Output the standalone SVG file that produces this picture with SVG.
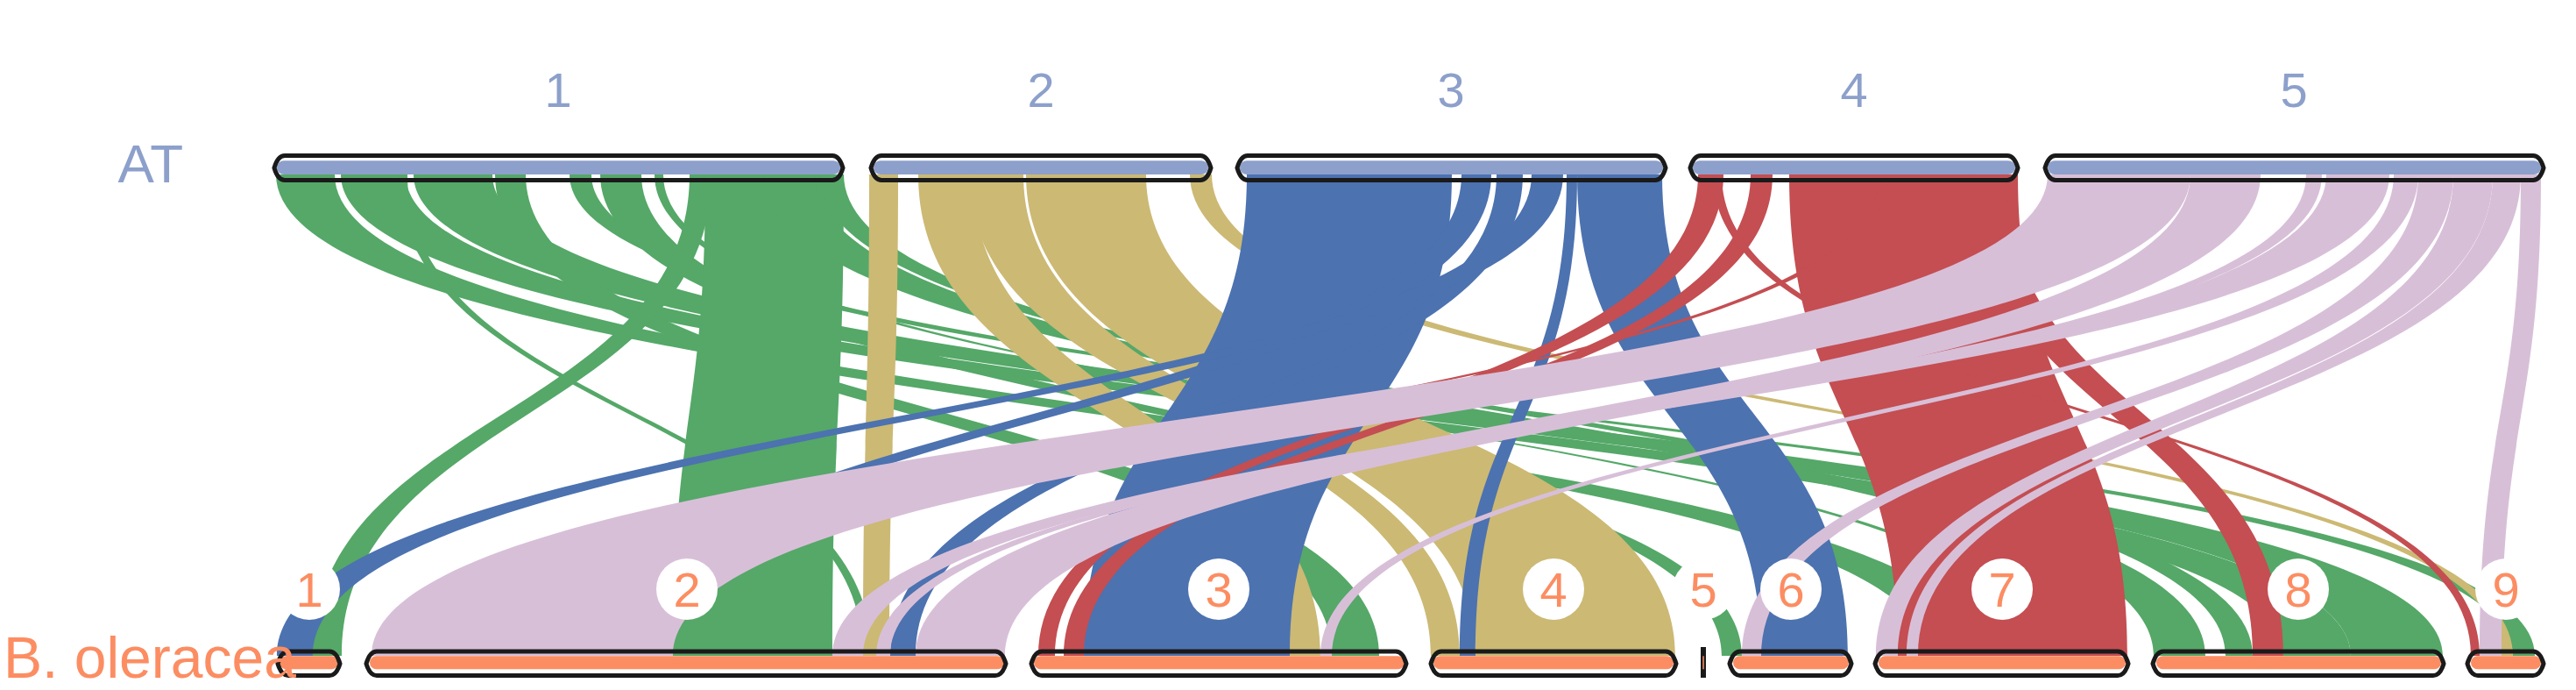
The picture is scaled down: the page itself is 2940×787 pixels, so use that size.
<svg xmlns="http://www.w3.org/2000/svg" width="2940" height="787" viewBox="0 0 2940 787">
<style>
.g{fill:#55A868}.y{fill:#CCB974}.b{fill:#4C72B0}.r{fill:#C44E52}.l{fill:#D8BFD8}
.ol{fill:none;stroke:#1a1a1a;stroke-width:5}
.tb{fill:#8DA0CB}.bb{fill:#FC8D62}
.tl{font-family:"Liberation Sans",Arial,sans-serif;font-size:56px;fill:#8DA0CB;text-anchor:middle}
.bl{font-family:"Liberation Sans",Arial,sans-serif;font-size:56px;fill:#FC8D62;text-anchor:middle}
.circ{fill:#fff}
</style>
<rect width="2940" height="787" fill="#fff"/>
<g id="connectors">
<path class="g" d="M315 199C315 473.5 2200 473.5 2200 748L2262 748C2262 473.5 382 473.5 382 199Z"/>
<path class="g" d="M389 199C389 473.5 2606 473.5 2606 748L2683 748C2683 473.5 463 473.5 463 199Z"/>
<path class="g" d="M472 199C472 473.5 2683 473.5 2683 748L2788 748C2788 473.5 562 473.5 562 199Z"/>
<path class="g" d="M565 199C565 473.5 1520 473.5 1520 748L1574 748C1574 473.5 600 473.5 600 199Z"/>
<path class="g" d="M650 199C650 473.5 2868 473.5 2868 748L2893 748C2893 473.5 675 473.5 675 199Z"/>
<path class="g" d="M685 199C685 473.5 1965 473.5 1965 748L1988 748C1988 473.5 732 473.5 732 199Z"/>
<path class="g" d="M747 199C747 473.5 2330 473.5 2330 748L2340 748C2340 473.5 757 473.5 757 199Z"/>
<path class="g" d="M455 199C455 473.5 985 473.5 985 748L995 748C995 473.5 465 473.5 465 199Z"/>
<path class="g" d="M787 199C787 473.5 357 473.5 357 748L390 748C390 473.5 812 473.5 812 199Z"/>
<path class="g" d="M805 199C805 473.5 768 473.5 768 748L950 748C950 473.5 963 473.5 963 199Z"/>
<path class="g" d="M871 199C871 473.5 2458 473.5 2458 748L2517 748C2517 473.5 930 473.5 930 199Z"/>
<path class="g" d="M935 199C935 473.5 2540 473.5 2540 748L2571 748C2571 473.5 963 473.5 963 199Z"/>
<path class="y" d="M992 199C992 473.5 985 473.5 985 748L1015 748C1015 473.5 1025 473.5 1025 199Z"/>
<path class="y" d="M1048 199C1048 473.5 1472 473.5 1472 748L1507 748C1507 473.5 1110 473.5 1110 199Z"/>
<path class="y" d="M1106 199C1106 473.5 1633 473.5 1633 748L1666 748C1666 473.5 1168 473.5 1168 199Z"/>
<path class="y" d="M1171 199C1171 473.5 1684 473.5 1684 748L1912 748C1912 473.5 1308 473.5 1308 199Z"/>
<path class="y" d="M1358 199C1358 473.5 2855 473.5 2855 748L2868 748C2868 473.5 1383 473.5 1383 199Z"/>
<path class="b" d="M1423 199C1423 473.5 1237 473.5 1237 748L1472 748C1472 473.5 1657 473.5 1657 199Z"/>
<path class="b" d="M1668 199C1668 473.5 680 473.5 680 748L712 748C712 473.5 1702 473.5 1702 199Z"/>
<path class="b" d="M1708 199C1708 473.5 1016 473.5 1016 748L1045 748C1045 473.5 1738 473.5 1738 199Z"/>
<path class="b" d="M1748 199C1748 473.5 316 473.5 316 748L357 748C357 473.5 1784 473.5 1784 199Z"/>
<path class="b" d="M1788 199C1788 473.5 1666 473.5 1666 748L1684 748C1684 473.5 1800 473.5 1800 199Z"/>
<path class="b" d="M1800 199C1800 473.5 2010 473.5 2010 748L2109 748C2109 473.5 1897 473.5 1897 199Z"/>
<path class="r" d="M1938 199C1938 473.5 1185 473.5 1185 748L1204 748C1204 473.5 1967 473.5 1967 199Z"/>
<path class="r" d="M1998 199C1998 473.5 1214 473.5 1214 748L1237 748C1237 473.5 2023 473.5 2023 199Z"/>
<path class="r" d="M2042 199C2042 473.5 2166 473.5 2166 748L2428 748C2428 473.5 2303 473.5 2303 199Z"/>
<path class="r" d="M2250 199C2250 473.5 2571 473.5 2571 748L2606 748C2606 473.5 2290 473.5 2290 199Z"/>
<path class="r" d="M1955 199C1955 473.5 2820 473.5 2820 748L2830 748C2830 473.5 1965 473.5 1965 199Z"/>
<path class="r" d="M2145 199C2145 473.5 745 473.5 745 748L755 748C755 473.5 2155 473.5 2155 199Z"/>
<path class="l" d="M2337 199C2337 473.5 424 473.5 424 748L768 748C768 473.5 2500 473.5 2500 199Z"/>
<path class="l" d="M2500 199C2500 473.5 1045 473.5 1045 748L1147 748C1147 473.5 2580 473.5 2580 199Z"/>
<path class="l" d="M2632 199C2632 473.5 1000 473.5 1000 748L1016 748C1016 473.5 2650 473.5 2650 199Z"/>
<path class="l" d="M2655 199C2655 473.5 950 473.5 950 748L985 748C985 473.5 2727 473.5 2727 199Z"/>
<path class="l" d="M2732 199C2732 473.5 1507 473.5 1507 748L1520 748C1520 473.5 2760 473.5 2760 199Z"/>
<path class="l" d="M2760 199C2760 473.5 1988 473.5 1988 748L2010 748C2010 473.5 2800 473.5 2800 199Z"/>
<path class="l" d="M2800 199C2800 473.5 2141 473.5 2141 748L2166 748C2166 473.5 2845 473.5 2845 199Z"/>
<path class="l" d="M2845 199C2845 473.5 2176 473.5 2176 748L2189 748C2189 473.5 2877 473.5 2877 199Z"/>
<path class="l" d="M2877 199C2877 473.5 2830 473.5 2830 748L2855 748C2855 473.5 2900 473.5 2900 199Z"/>
</g>
<g id="top-chromosomes">
<g id="AT1"><rect class="tb" x="316" y="183.3" width="643" height="15.7" rx="8"/><path class="ol" d="M325 177.5H950Q958 177.5 962 191.5Q958 205.5 950 205.5H325Q317 205.5 313 191.5Q317 177.5 325 177.5Z"/><text class="tl" x="637" y="122">1</text></g>
<g id="AT2"><rect class="tb" x="997" y="183.3" width="382" height="15.7" rx="8"/><path class="ol" d="M1006 177.5H1370Q1378 177.5 1382 191.5Q1378 205.5 1370 205.5H1006Q998 205.5 994 191.5Q998 177.5 1006 177.5Z"/><text class="tl" x="1188" y="122">2</text></g>
<g id="AT3"><rect class="tb" x="1415" y="183.3" width="483" height="15.7" rx="8"/><path class="ol" d="M1424 177.5H1889Q1897 177.5 1901 191.5Q1897 205.5 1889 205.5H1424Q1416 205.5 1412 191.5Q1416 177.5 1424 177.5Z"/><text class="tl" x="1656" y="122">3</text></g>
<g id="AT4"><rect class="tb" x="1932" y="183.3" width="368" height="15.7" rx="8"/><path class="ol" d="M1941 177.5H2291Q2299 177.5 2303 191.5Q2299 205.5 2291 205.5H1941Q1933 205.5 1929 191.5Q1933 177.5 1941 177.5Z"/><text class="tl" x="2116" y="122">4</text></g>
<g id="AT5"><rect class="tb" x="2337" y="183.3" width="563" height="15.7" rx="8"/><path class="ol" d="M2346 177.5H2891Q2899 177.5 2903 191.5Q2899 205.5 2891 205.5H2346Q2338 205.5 2334 191.5Q2338 177.5 2346 177.5Z"/><text class="tl" x="2618" y="122">5</text></g>
</g>
<g id="bottom-chromosomes">
<g id="BO1"><rect class="bb" x="319" y="748.3" width="67" height="15" rx="7.5"/><path class="ol" d="M329 743H376Q384 743 388 757Q384 770.5 376 770.5H329Q321 770.5 317 757Q321 743 329 743Z"/><circle class="circ" cx="353" cy="672" r="35"/><text class="bl" x="353" y="692">1</text></g>
<g id="BO2"><rect class="bb" x="422" y="748.3" width="724" height="15" rx="7.5"/><path class="ol" d="M430 743H1136Q1144 743 1148 757Q1144 770.5 1136 770.5H430Q422 770.5 418 757Q422 743 430 743Z"/><circle class="circ" cx="784" cy="672" r="35"/><text class="bl" x="784" y="692">2</text></g>
<g id="BO3"><rect class="bb" x="1180" y="748.3" width="423" height="15" rx="7.5"/><path class="ol" d="M1189 743H1593Q1601 743 1605 757Q1601 770.5 1593 770.5H1189Q1181 770.5 1177 757Q1181 743 1189 743Z"/><circle class="circ" cx="1391" cy="672" r="35"/><text class="bl" x="1391" y="692">3</text></g>
<g id="BO4"><rect class="bb" x="1636" y="748.3" width="274" height="15" rx="7.5"/><path class="ol" d="M1645 743H1901Q1909 743 1913 757Q1909 770.5 1901 770.5H1645Q1637 770.5 1633 757Q1637 743 1645 743Z"/><circle class="circ" cx="1773" cy="672" r="35"/><text class="bl" x="1773" y="692">4</text></g>
<g id="BO5"><rect x="1941" y="738" width="6" height="35" fill="#1a1a1a"/><rect class="bb" x="1943.3" y="748.3" width="1.5" height="15"/><circle class="circ" cx="1944" cy="672" r="35"/><text class="bl" x="1944" y="692">5</text></g>
<g id="BO6"><rect class="bb" x="1978" y="748.3" width="132" height="15" rx="7.5"/><path class="ol" d="M1986 743H2101Q2109 743 2113 757Q2109 770.5 2101 770.5H1986Q1978 770.5 1974 757Q1978 743 1986 743Z"/><circle class="circ" cx="2044" cy="672" r="35"/><text class="bl" x="2044" y="692">6</text></g>
<g id="BO7"><rect class="bb" x="2144" y="748.3" width="282" height="15" rx="7.5"/><path class="ol" d="M2152 743H2417Q2425 743 2429 757Q2425 770.5 2417 770.5H2152Q2144 770.5 2140 757Q2144 743 2152 743Z"/><circle class="circ" cx="2285" cy="672" r="35"/><text class="bl" x="2285" y="692">7</text></g>
<g id="BO8"><rect class="bb" x="2461" y="748.3" width="325" height="15" rx="7.5"/><path class="ol" d="M2469 743H2777Q2785 743 2789 757Q2785 770.5 2777 770.5H2469Q2461 770.5 2457 757Q2461 743 2469 743Z"/><circle class="circ" cx="2623" cy="672" r="35"/><text class="bl" x="2623" y="692">8</text></g>
<g id="BO9"><rect class="bb" x="2820" y="748.3" width="80" height="15" rx="7.5"/><path class="ol" d="M2828 743H2891Q2899 743 2903 757Q2899 770.5 2891 770.5H2828Q2820 770.5 2816 757Q2820 743 2828 743Z"/><circle class="circ" cx="2860" cy="672" r="35"/><text class="bl" x="2860" y="692">9</text></g>
</g>
<g id="titles">
<text x="209" y="208" font-family="Liberation Sans, Arial, sans-serif" font-size="62" fill="#8DA0CB" text-anchor="end">AT</text>
<text x="4" y="773" font-family="Liberation Sans, Arial, sans-serif" font-size="66" fill="#FC8D62">B. oleracea</text>
</g>
</svg>
